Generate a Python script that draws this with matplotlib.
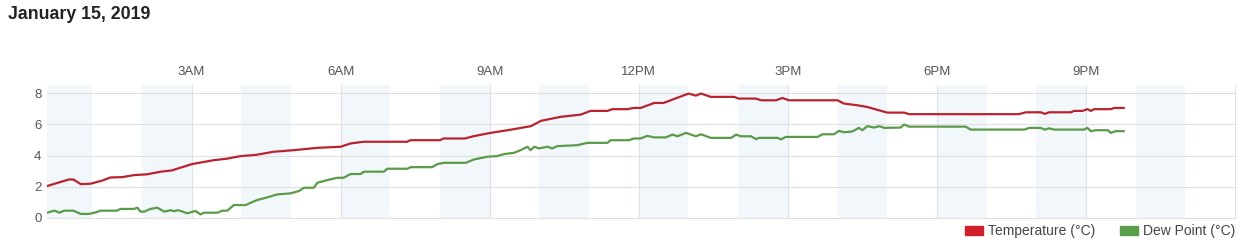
import matplotlib
matplotlib.use("Agg")
import matplotlib.pyplot as plt
from matplotlib.patches import Patch

plt.rcParams['font.family'] = ['Liberation Sans', 'DejaVu Sans']

# hours after midnight, January 15, 2019
temp_hours = [0.09, 0.53, 0.62, 0.77, 0.97, 1.2, 1.37, 1.6, 1.84, 2.1, 2.38, 2.6,
              3.01, 3.45, 3.7, 3.99, 4.3, 4.65, 5.06, 5.53, 6.0, 6.2, 6.46, 7.34,
              7.4, 8.0, 8.07, 8.5, 8.68, 9.02, 9.36, 9.83, 10.03, 10.43, 10.83,
              11.03, 11.37, 11.47, 11.77, 11.9, 12.04, 12.31, 12.5, 13.0, 13.15,
              13.25, 13.45, 13.92, 14.01, 14.36, 14.46, 14.76, 14.89, 15.02, 16.0,
              16.13, 16.4, 16.6, 17.0, 17.34, 17.44, 19.65, 19.79, 20.09, 20.17,
              20.26, 20.7, 20.76, 20.93, 21.03, 21.1, 21.16, 21.5, 21.57, 21.76]
temp_vals = [2.05, 2.47, 2.47, 2.17, 2.2, 2.4, 2.6, 2.62, 2.75, 2.8, 2.97, 3.05,
             3.46, 3.71, 3.8, 3.97, 4.05, 4.25, 4.35, 4.5, 4.57, 4.78, 4.89, 4.89,
             4.99, 4.99, 5.1, 5.1, 5.25, 5.46, 5.63, 5.89, 6.23, 6.49, 6.63,
             6.87, 6.87, 6.98, 6.98, 7.06, 7.06, 7.38, 7.38, 7.98, 7.85,
             7.98, 7.77, 7.77, 7.66, 7.66, 7.55, 7.55, 7.7, 7.55, 7.55,
             7.34, 7.23, 7.12, 6.76, 6.76, 6.66, 6.66, 6.78, 6.78, 6.68,
             6.78, 6.78, 6.87, 6.87, 6.98, 6.87, 6.98, 6.98, 7.06, 7.06]

dew_hours = [0.09, 0.24, 0.34, 0.44, 0.62, 0.77, 0.93, 1.07, 1.17, 1.5, 1.57, 1.84,
             1.91, 1.97, 2.05, 2.17, 2.31, 2.45, 2.58, 2.65, 2.72, 2.82, 2.91, 3.08,
             3.18, 3.25, 3.52, 3.62, 3.72, 3.85, 4.09, 4.19, 4.32, 4.52, 4.72, 4.99,
             5.16, 5.26, 5.46, 5.53, 5.73, 5.93, 6.06, 6.2, 6.4, 6.47, 6.87, 6.94,
             7.34, 7.41, 7.84, 7.95, 8.08, 8.52, 8.68, 8.95, 9.15, 9.29, 9.49, 9.62,
             9.76, 9.82, 9.9, 9.99, 10.16, 10.26, 10.36, 10.76, 10.97, 11.37, 11.43,
             11.8, 11.9, 12.04, 12.17, 12.31, 12.54, 12.68, 12.78, 12.95, 13.15,
             13.25, 13.45, 13.86, 13.96, 14.05, 14.26, 14.36, 14.42, 14.79, 14.86,
             14.96, 15.6, 15.7, 15.93, 16.03, 16.13, 16.3, 16.43, 16.5, 16.6, 16.74,
             16.84, 16.94, 17.27, 17.34, 17.44, 18.58, 18.68, 19.76, 19.86, 20.09,
             20.17, 20.26, 20.36, 20.96, 21.03, 21.1, 21.2, 21.44, 21.5, 21.6, 21.76]
dew_vals = [0.34, 0.47, 0.34, 0.47, 0.47, 0.26, 0.26, 0.36, 0.47, 0.47, 0.58, 0.58,
            0.66, 0.41, 0.41, 0.58, 0.66, 0.41, 0.5, 0.43, 0.5, 0.41, 0.3, 0.45,
            0.23, 0.34, 0.34, 0.47, 0.47, 0.83, 0.83, 0.98, 1.15, 1.32, 1.51, 1.58,
            1.73, 1.94, 1.94, 2.26, 2.43, 2.58, 2.58, 2.82, 2.82, 2.97, 2.97, 3.16,
            3.16, 3.26, 3.26, 3.46, 3.54, 3.54, 3.75, 3.93, 3.97, 4.1, 4.18, 4.35,
            4.57, 4.35, 4.57, 4.46, 4.57, 4.46, 4.61, 4.67, 4.82, 4.82, 4.99,
            4.99, 5.1, 5.1, 5.27, 5.17, 5.17, 5.35, 5.24, 5.46, 5.24,
            5.37, 5.14, 5.14, 5.35, 5.24, 5.24, 5.06, 5.14, 5.14, 5.04,
            5.2, 5.2, 5.37, 5.37, 5.59, 5.5, 5.55, 5.78, 5.63, 5.89, 5.8,
            5.89, 5.78, 5.8, 6.0, 5.86, 5.86, 5.67, 5.67, 5.78, 5.78,
            5.67, 5.75, 5.67, 5.67, 5.78, 5.57, 5.63, 5.63, 5.46, 5.57, 5.57]

tick_hours = [3, 6, 9, 12, 15, 18, 21, 24]
tick_labels = ["3AM", "6AM", "9AM", "12PM", "3PM", "6PM", "9PM", ""]
y_ticks = [0, 2, 4, 6, 8]

fig = plt.figure(figsize=(12.5, 2.44), dpi=100)
ax = fig.add_axes([0.0376, 0.1066, 0.9504, 0.545])

# shaded hour bands, every other hour
for h in range(0, 24, 2):
    ax.axvspan(h, h + 1, color="#f2f7fc", lw=0, zorder=0)

ax.plot(temp_hours, temp_vals, color="#b8232f", lw=1.6, zorder=3)
ax.plot(dew_hours, dew_vals, color="#5a9a48", lw=1.6, zorder=3)

ax.set_xlim(0.09, 24.0)
ax.set_ylim(0, 8.53)
ax.set_xticks(tick_hours)
ax.set_xticklabels(tick_labels)
ax.set_yticks(y_ticks)
ax.xaxis.tick_top()
ax.tick_params(axis="x", length=0, pad=5, labelsize=9.5, labelcolor="#555555")
ax.tick_params(axis="y", length=0, pad=4, labelsize=9.5, labelcolor="#555555")
ax.grid(True, axis="y", color="#e0e0e0", lw=0.8, zorder=1)
ax.grid(True, axis="x", color="#dbe2ea", lw=0.8, zorder=1)
for g in ax.get_xgridlines() + ax.get_ygridlines():
    g.set_clip_on(False)
for s in ax.spines.values():
    s.set_visible(False)

fig.text(0.0064, 1 - 14.5 / 244, "January 15, 2019", fontsize=12.8,
         fontweight="bold", color="#222222", va="center", ha="left")

handles = [Patch(color="#d0202c", label="Temperature (°C)"),
           Patch(color="#5b9e4a", label="Dew Point (°C)")]
fig.legend(handles=handles, loc="center right", bbox_to_anchor=(0.988, 0.053),
           ncol=2, frameon=False, fontsize=10, handlelength=1.3,
           handleheight=0.6, handletextpad=0.35, columnspacing=1.75,
           labelcolor="#444444", borderaxespad=0, borderpad=0)

fig.savefig("out.png", dpi=100)
